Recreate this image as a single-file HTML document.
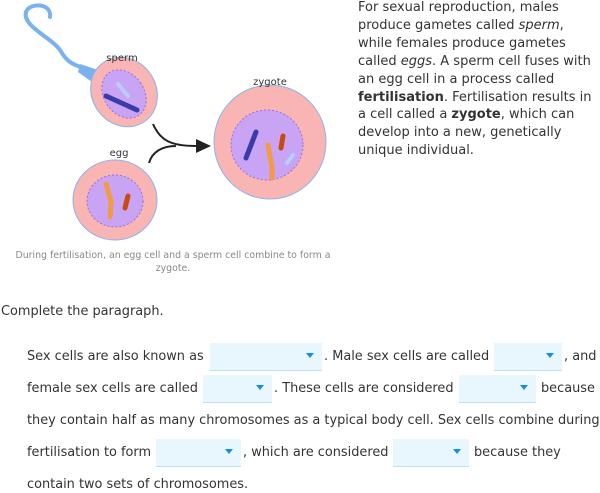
<!DOCTYPE html>
<html><head><style>
body{margin:0;width:600px;height:490px;background:#fff;position:relative;overflow:hidden;font-family:"DejaVu Sans","Liberation Sans",sans-serif;color:#333}
.r{position:absolute;left:358px;top:-1px;font-size:13px;line-height:17.9px;white-space:nowrap}
.l{position:absolute;left:27px;font-size:12.9px;white-space:nowrap;line-height:16px}
.dd{position:absolute;background:#e8f6fd;border-bottom:1px solid #b9e3f7;height:27px}
.dd:after{content:"";position:absolute;right:8px;top:10px;border-left:4px solid transparent;border-right:4px solid transparent;border-top:5px solid #1a8fd6}
</style></head><body>
<svg width="340" height="280" style="position:absolute;left:0;top:0">
<path d="M50 17 C52 3 30 2 26 12 C22 26 52 38 60 50 C66 60 70 64 84 68 L96 74" stroke="#79b2ef" stroke-width="4" fill="none" stroke-linecap="round"/>
<path d="M80 64 L98 70 L92 82 L78 72 Z" fill="#79b2ef"/>
<ellipse cx="124" cy="92" rx="32" ry="36" transform="rotate(-35 124 92)" fill="#f9b4b4" stroke="#8ab4ee"/>
<ellipse cx="124" cy="94" rx="20" ry="26" transform="rotate(-35 124 94)" fill="#c9a4f4" stroke="#9a6fd8" stroke-dasharray="2 2"/>
<path d="M106 96 L137 110" stroke="#3a3aa8" stroke-width="5" stroke-linecap="round"/>
<path d="M118 84 L128 96" stroke="#b8cdfa" stroke-width="4" stroke-linecap="round"/>
<text x="122" y="61" font-size="10" text-anchor="middle" fill="#333" font-family="DejaVu Sans,sans-serif">sperm</text>
<ellipse cx="115" cy="200" rx="42" ry="40" fill="#f9b4b4" stroke="#8ab4ee"/>
<ellipse cx="115" cy="201" rx="28" ry="26" fill="#c9a4f4" stroke="#9a6fd8" stroke-dasharray="2 2"/>
<path d="M106 184 L111 201 L110 217" stroke="#f59a44" stroke-width="5" stroke-linecap="round" fill="none"/>
<path d="M128 196 L125 208" stroke="#c84a10" stroke-width="5" stroke-linecap="round"/>
<text x="119" y="156" font-size="10" text-anchor="middle" fill="#333" font-family="DejaVu Sans,sans-serif">egg</text>
<ellipse cx="270" cy="142" rx="56" ry="57" fill="#f9b4b4" stroke="#8ab4ee"/>
<ellipse cx="267" cy="145" rx="36" ry="35" fill="#c9a4f4" stroke="#9a6fd8" stroke-dasharray="2 2"/>
<path d="M256 132 L246 158" stroke="#3a3aa8" stroke-width="5" stroke-linecap="round"/>
<path d="M268 145 L272 168 L272 178" stroke="#f59a44" stroke-width="5" stroke-linecap="round" fill="none"/>
<path d="M283 136 L281 148" stroke="#c84a10" stroke-width="5" stroke-linecap="round"/>
<path d="M293 155 L287 163" stroke="#b8cdfa" stroke-width="4" stroke-linecap="round"/>
<text x="270" y="85" font-size="10" text-anchor="middle" fill="#333" font-family="DejaVu Sans,sans-serif">zygote</text>
<path d="M153 124 C160 140 170 146 196 146 M149 163 C152 152 162 146 176 146" stroke="#222" stroke-width="2" fill="none"/>
<path d="M196 139 L211 146 L196 153 Z" fill="#222"/>
<text x="173" y="258" font-size="9.4" text-anchor="middle" fill="#888" font-family="DejaVu Sans,sans-serif">During fertilisation, an egg cell and a sperm cell combine to form a</text>
<text x="173" y="271" font-size="9.4" text-anchor="middle" fill="#888" font-family="DejaVu Sans,sans-serif">zygote.</text>
</svg>
<div class="r">For sexual reproduction, males<br>produce gametes called <i>sperm</i>,<br>while females produce gametes<br>called <i>eggs</i>. A sperm cell fuses with<br>an egg cell in a process called<br><b>fertilisation</b>. Fertilisation results in<br>a cell called a <b>zygote</b>, which can<br>develop into a new, genetically<br>unique individual.</div>
<div class="l" style="left:1px;top:304px">Complete the paragraph.</div>
<div class="l" style="top:349px">Sex cells are also known as</div>
<div class="dd" style="left:210px;top:343px;width:112px"></div>
<div class="l" style="left:324px;top:349px">. Male sex cells are called</div>
<div class="dd" style="left:494px;top:343px;width:68px"></div>
<div class="l" style="left:564px;top:349px">, and</div>
<div class="l" style="top:381px">female sex cells are called</div>
<div class="dd" style="left:203px;top:375px;width:69px"></div>
<div class="l" style="left:274px;top:381px">. These cells are considered</div>
<div class="dd" style="left:459px;top:375px;width:77px"></div>
<div class="l" style="left:541px;top:381px">because</div>
<div class="l" style="top:413px">they contain half as many chromosomes as a typical body cell. Sex cells combine during</div>
<div class="l" style="top:445px">fertilisation to form</div>
<div class="dd" style="left:156px;top:439px;width:85px"></div>
<div class="l" style="left:243px;top:445px">, which are considered</div>
<div class="dd" style="left:393px;top:439px;width:76px"></div>
<div class="l" style="left:474px;top:445px">because they</div>
<div class="l" style="top:477px">contain two sets of chromosomes.</div>
</body></html>
